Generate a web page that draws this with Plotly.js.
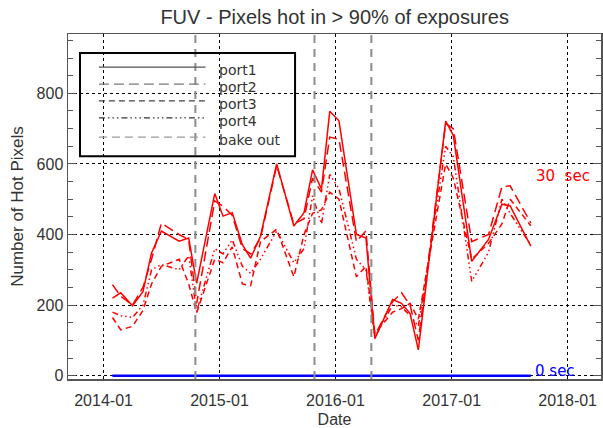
<!DOCTYPE html>
<html>
<head>
<meta charset="utf-8">
<script src="https://cdn.plot.ly/plotly-3.0.1.min.js"></script>
<style>
html,body{margin:0;padding:0;background:#fff;}
#chart{width:603px;height:428px;}
</style>
</head>
<body>
<div id="chart"></div>
<script>
// ---- data ----
var dates = ["2014-01-29","2014-02-24","2014-04-02","2014-05-05","2014-06-01","2014-07-02",
  "2014-08-27","2014-09-26","2014-10-21","2014-12-17","2015-01-12","2015-02-10",
  "2015-03-14","2015-04-09","2015-05-10","2015-06-30","2015-08-23","2015-09-24",
  "2015-10-21","2015-11-18","2015-12-14","2016-01-12","2016-03-07","2016-04-06",
  "2016-05-04","2016-06-29","2016-07-27","2016-08-23","2016-09-18","2016-12-13",
  "2017-01-06","2017-03-05","2017-04-27","2017-06-08","2017-07-04","2017-09-07"];
var port1 = [220,235,198,238,348,410,381,390,262,516,452,462,371,333,395,600,424,462,
  583,529,749,722,400,390,105,216,205,176,73,721,681,324,386,486,481,367];
var port2 = [258,225,200,250,330,432,400,385,205,495,480,455,360,345,390,595,430,445,
  560,520,676,670,380,410,115,210,235,200,100,714,700,380,400,535,538,433];
var port3 = [165,130,140,185,260,310,330,260,178,330,320,365,260,255,380,415,280,400,
  460,470,520,500,280,310,120,180,190,205,160,600,560,330,375,430,500,425];
var port4 = [180,170,165,200,300,315,300,340,182,360,345,385,310,290,330,410,320,360,
  510,430,570,530,330,300,110,200,195,170,140,650,620,267,350,500,460,370];
var zeroSec = [0,0,0,0,0,0,0,0,0,0,0,0,0,0,0,0,0,0,0,0,0,0,0,0,0,0,0,0,0,0,0,0,0,0,0,0];
var bakeOutDates = ["2014-10-17","2015-10-27","2016-04-23"];
var legendNames = ["port1","port2","port3","port4","bake out"];
var titleText = "FUV - Pixels hot in > 90% of exposures";
var xTitle = "Date";
var yTitle = "Number of Hot Pixels";

// ---- styles ----
var dashP4 = "6px,3px,1.5px,3px,1.5px,3px,1.5px,3px";
var portDashes = ["solid","10px,5px","6px,4px",dashP4];
var series = [port1,port2,port3,port4];
var traces = [];
series.forEach(function(s,i){
  traces.push({x:dates,y:s,type:"scatter",mode:"lines",showlegend:false,
    line:{color:"#ff0000",width:1.5,dash:portDashes[i]},hoverinfo:"skip"});
});
traces.push({x:dates,y:zeroSec,type:"scatter",mode:"lines",showlegend:false,
  line:{color:"#0000ff",width:2.5},hoverinfo:"skip"});

var shapes = [];
bakeOutDates.forEach(function(d){
  shapes.push({type:"line",xref:"x",yref:"paper",x0:d,x1:d,y0:0,y1:1,
    line:{color:"#8c8c8c",width:2,dash:"8px,6px"}});
});
// legend box
shapes.push({type:"rect",xref:"paper",yref:"paper",x0:0.0225,x1:0.426,y0:0.646,y1:0.945,
  line:{color:"#000",width:2}});
var legY = [0.904,0.855,0.806,0.757,0.701];
var legDash = ["solid","10px,5px","6px,4px",dashP4,"8px,5px"];
var legCol = ["#555","#777","#444","#333","#999"];
var annotations = [];
legendNames.forEach(function(n,i){
  shapes.push({type:"line",xref:"paper",yref:"paper",x0:0.058,x1:0.258,y0:legY[i],y1:legY[i],
    line:{color:legCol[i],width:1.3,dash:legDash[i]}});
  annotations.push({xref:"paper",yref:"paper",x:0.279,y:legY[i]-0.009,text:n,showarrow:false,
    xanchor:"left",yanchor:"middle",font:{family:"DejaVu Sans",size:14,color:"#333"}});
});
annotations.push({xref:"x",yref:"y",x:"2017-09-17",y:565,text:"30&nbsp;&nbsp;sec",showarrow:false,
  xanchor:"left",yanchor:"middle",font:{family:"DejaVu Sans",size:15,color:"#ff0000"}});
annotations.push({xref:"x",yref:"y",x:"2017-09-15",y:14,text:"0&nbsp;sec",showarrow:false,
  xanchor:"left",yanchor:"middle",font:{family:"DejaVu Sans",size:15,color:"#0000ff"}});

var layout = {
  width:603,height:428,
  margin:{l:68,r:2,t:34,b:49},
  paper_bgcolor:"#fff",plot_bgcolor:"#fff",
  font:{family:"Liberation Sans, Arial, sans-serif",size:16,color:"#333"},
  title:{text:titleText,x:0.555,xanchor:"center",y:0.96,yanchor:"middle",
    font:{family:"Liberation Sans, Arial, sans-serif",size:20,color:"#333"}},
  xaxis:{type:"date",range:["2013-09-11","2018-04-16"],
    tick0:"2014-01-01",dtick:"M12",tickformat:"%Y-%m",
    tickfont:{size:16,color:"#333"},
    showgrid:true,gridcolor:"#000",griddash:"dot",gridwidth:1,
    showline:true,linecolor:"#555",linewidth:1.5,mirror:true,
    ticks:"",ticklabelstandoff:6,zeroline:false,
    title:{text:xTitle,standoff:6,font:{size:16,color:"#333"}}},
  yaxis:{range:[-9.3,968],tick0:0,dtick:200,
    tickfont:{size:16,color:"#333"},
    showgrid:true,gridcolor:"#000",griddash:"dot",gridwidth:1,
    showline:true,linecolor:"#555",linewidth:1.5,mirror:"allticks",
    ticks:"inside",ticklen:8,tickcolor:"#555",zeroline:false,
    minor:{dtick:50,ticks:"inside",ticklen:5,tickcolor:"#555",showgrid:false},
    title:{text:yTitle,standoff:8,font:{size:17,color:"#333"}}},
  shapes:shapes,annotations:annotations,showlegend:false
};
Plotly.newPlot("chart",traces,layout,{staticPlot:true,displayModeBar:false});
</script>
</body>
</html>
